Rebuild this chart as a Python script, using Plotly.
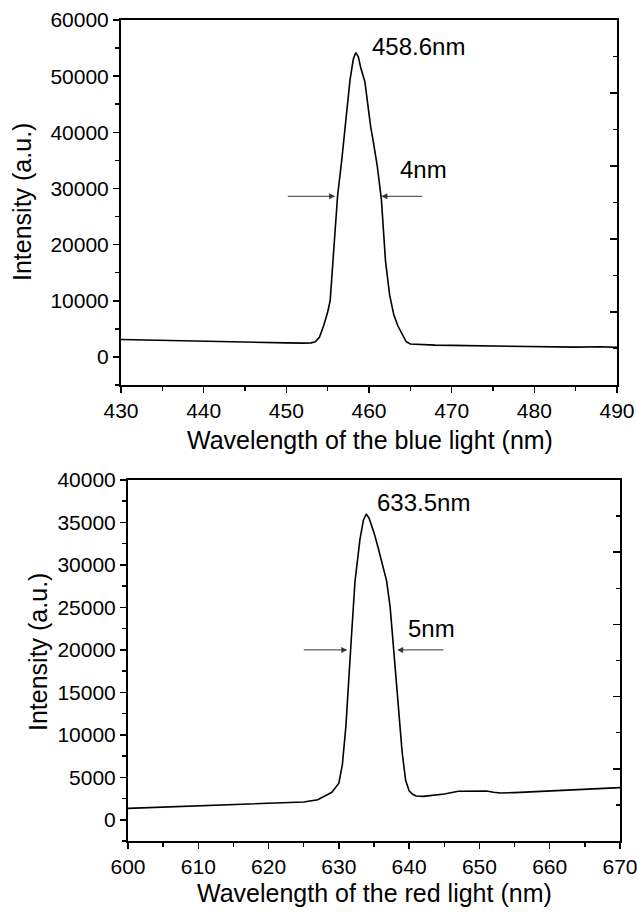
import plotly.graph_objects as go

W, H = 637, 913

# ---------------- data ----------------
blue_wl = [430, 433, 436, 440, 445, 450, 452, 453, 453.5, 454, 454.5, 455, 455.3, 455.7,
           456.2, 456.7, 457.1, 457.7, 458.1, 458.4, 458.7, 459, 459.5, 460, 460.2, 460.5,
           461, 461.5, 462, 462.5, 463, 463.5, 464, 464.5, 465, 466, 468, 470, 475, 480,
           485, 488, 490]
blue_int = [3100, 3000, 2900, 2700, 2600, 2500, 2450, 2500, 2700, 3500, 5500, 8000, 10000, 18000,
            28700, 35000, 40400, 49300, 53000, 54200, 53500, 51500, 49000, 43000, 41000, 38500,
            34000, 28000, 17000, 11000, 7500, 5500, 4000, 2700, 2300, 2200, 2100, 2050, 1950, 1800,
            1750, 1800, 1700]

red_wl = [600, 605, 610, 615, 620, 625, 627, 629, 630, 630.5, 631, 631.5, 631.8, 632.3, 633,
          633.5, 633.9, 634.3, 635, 635.6, 636.2, 636.8, 637.3, 637.7, 638.1, 638.5, 639,
          639.5, 640, 640.5, 641, 642, 643, 645, 647, 650, 651, 652, 653, 655, 660, 665, 670]
red_int = [1340, 1500, 1650, 1800, 1950, 2090, 2360, 3230, 4300, 6500, 11000, 17000, 21700, 28100, 33000,
           35300, 36000, 35500, 33800, 32000, 30000, 28100, 25000, 21000, 16500, 12600, 8000,
           4640, 3400, 3000, 2800, 2750, 2850, 3030, 3350, 3430, 3380, 3230, 3150, 3200, 3390, 3580, 3780]

blue_peak_label = "458.6nm"
blue_fwhm_label = "4nm"
red_peak_label = "633.5nm"
red_fwhm_label = "5nm"

blue_xtitle = "Wavelength of the blue light (nm)"
red_xtitle = "Wavelength of the red light (nm)"
ytitle = "Intensity (a.u.)"

FONT = "Liberation Sans, Arial, sans-serif"

fig = go.Figure()
fig.add_trace(go.Scatter(x=blue_wl, y=blue_int, mode="lines", line=dict(color="black", width=1.6),
                         xaxis="x", yaxis="y", showlegend=False, hoverinfo="skip"))
fig.add_trace(go.Scatter(x=red_wl, y=red_int, mode="lines", line=dict(color="black", width=1.6),
                         xaxis="x2", yaxis="y2", showlegend=False, hoverinfo="skip"))

def px2py(p):
    return 1 - p / H

top_dom_y = [px2py(385), px2py(20)]
bot_dom_y = [px2py(841), px2py(480)]
top_dom_x = [121 / W, 617 / W]
bot_dom_x = [128 / W, 620 / W]

tickfont = dict(family=FONT, size=21, color="black")
common_x = dict(showgrid=False, zeroline=False, showline=True, linecolor="black", linewidth=2,
                mirror=True, ticks="outside", ticklen=6, tickwidth=1.5, tickcolor="black",
                tickfont=tickfont, dtick=10, automargin=False, ticklabeloverflow="allow",
                minor=dict(ticks="outside", ticklen=4, tickwidth=1.5, tickcolor="black", dtick=5))
common_y = dict(showgrid=False, zeroline=False, showline=True, linecolor="black", linewidth=2,
                mirror=True, ticks="outside", ticklen=6, tickwidth=1.5, tickcolor="black",
                tickfont=tickfont, tickformat="d", automargin=False, ticklabeloverflow="allow")
right_y = dict(showgrid=False, zeroline=False, showline=False, side="right", range=[0, 5],
               ticks="inside", ticklen=7, tickwidth=1.5, tickcolor="black", dtick=1,
               showticklabels=False, automargin=False,
               minor=dict(ticks="inside", ticklen=4, tickwidth=1.5, tickcolor="black", dtick=0.5))

fig.update_layout(
    width=W, height=H, margin=dict(l=0, r=0, t=0, b=0, autoexpand=False),
    paper_bgcolor="white", plot_bgcolor="white",
    xaxis=dict(common_x, domain=top_dom_x, range=[430, 490], anchor="y"),
    yaxis=dict(common_y, domain=top_dom_y, range=[-5000, 60000], dtick=10000, anchor="x",
               minor=dict(ticks="outside", ticklen=4, tickwidth=1.5, tickcolor="black", dtick=5000)),
    xaxis2=dict(common_x, domain=bot_dom_x, range=[600, 670], anchor="y2"),
    yaxis2=dict(common_y, domain=bot_dom_y, range=[-2500, 40000], dtick=5000, anchor="x2",
                minor=dict(ticks="outside", ticklen=4, tickwidth=1.5, tickcolor="black", dtick=2500)),
    yaxis3=dict(right_y, overlaying="y", anchor="x"),
    yaxis4=dict(right_y, overlaying="y2", anchor="x2"),
    font=dict(family=FONT, color="black"),
    hovermode=False,
)

# invisible traces so the overlay axes are drawn
fig.add_trace(go.Scatter(x=[None], y=[None], xaxis="x", yaxis="y3", showlegend=False))
fig.add_trace(go.Scatter(x=[None], y=[None], xaxis="x2", yaxis="y4", showlegend=False))

annfont = dict(family=FONT, size=25, color="black")
lblfont = dict(family=FONT, size=24, color="black")
anns = []
# axis titles
anns.append(dict(text=blue_xtitle, xref="paper", yref="paper", x=370 / W, y=px2py(440),
                 showarrow=False, font=annfont, xanchor="center", yanchor="middle"))
anns.append(dict(text=red_xtitle, xref="paper", yref="paper", x=374 / W, y=px2py(893),
                 showarrow=False, font=annfont, xanchor="center", yanchor="middle"))
anns.append(dict(text=ytitle, xref="paper", yref="paper", x=22 / W, y=px2py(202),
                 showarrow=False, font=annfont, textangle=-90, xanchor="center", yanchor="middle"))
anns.append(dict(text=ytitle, xref="paper", yref="paper", x=38 / W, y=px2py(652),
                 showarrow=False, font=annfont, textangle=-90, xanchor="center", yanchor="middle"))
# peak labels
anns.append(dict(text=blue_peak_label, xref="x", yref="y", x=460.1, y=55200, showarrow=False,
                 font=lblfont, xanchor="left", yanchor="middle"))
anns.append(dict(text=blue_fwhm_label, xref="x", yref="y", x=463.5, y=33300, showarrow=False,
                 font=lblfont, xanchor="left", yanchor="middle"))
anns.append(dict(text=red_peak_label, xref="x2", yref="y2", x=635.1, y=37400, showarrow=False,
                 font=lblfont, xanchor="left", yanchor="middle"))
anns.append(dict(text=red_fwhm_label, xref="x2", yref="y2", x=639.5, y=22500, showarrow=False,
                 font=lblfont, xanchor="left", yanchor="middle"))
# FWHM arrows
arrow = dict(showarrow=True, arrowhead=2, arrowsize=1.2, arrowwidth=1, arrowcolor="#333333", text="")
anns.append(dict(arrow, xref="x", yref="y", axref="x", ayref="y", x=455.9, y=28600, ax=450.0, ay=28600))
anns.append(dict(arrow, xref="x", yref="y", axref="x", ayref="y", x=461.5, y=28600, ax=466.6, ay=28600))
anns.append(dict(arrow, xref="x2", yref="y2", axref="x2", ayref="y2", x=631.2, y=20000, ax=624.8, ay=20000))
anns.append(dict(arrow, xref="x2", yref="y2", axref="x2", ayref="y2", x=638.3, y=20000, ax=645.1, ay=20000))
fig.update_layout(annotations=anns)

fig.write_html("out.html", config={"displayModeBar": False, "staticPlot": True},
               post_script="document.body.style.margin='0px';document.body.style.overflow='hidden';")
